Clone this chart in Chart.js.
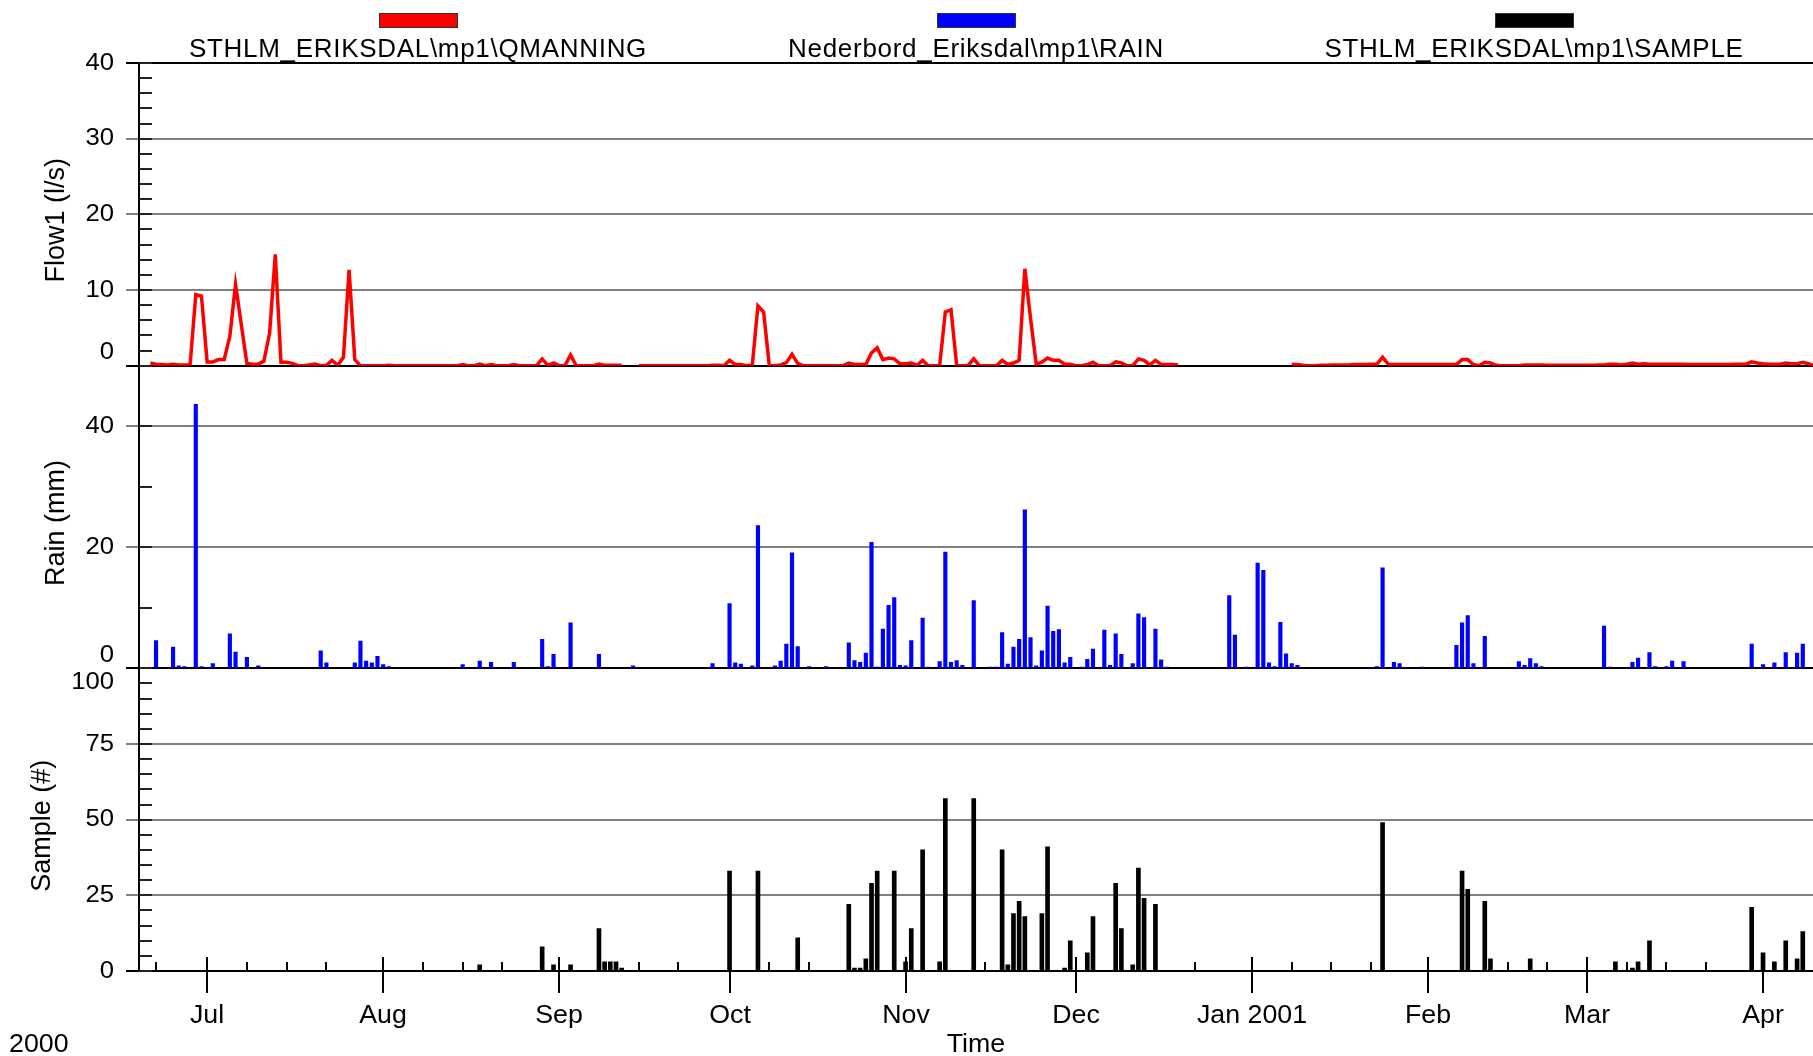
<!DOCTYPE html>
<html>
<head>
<meta charset="utf-8">
<title>Eriksdal - flow, rain and samples</title>
<script src="https://cdn.jsdelivr.net/npm/chart.js@4.4.1/dist/chart.umd.min.js"></script>
<style>
  html, body { margin: 0; padding: 0; background: #fff; }
  #wrap { position: relative; width: 1813px; height: 1056px; }
  #chart { position: absolute; left: 0; top: 0; }
  .legend-item { position: absolute; top: 0; width: 600px; text-align: center;
                 font-family: "Liberation Sans", Arial, sans-serif; font-size: 26px; color: #000; }
  .legend-item .swatch { width: 77px; height: 13px; margin: 13px auto 0; border: 1px solid #333; }
  .legend-item .name { margin-top: 5px; line-height: 30px; letter-spacing: 0.7px; }
</style>
</head>
<body>
<div id="wrap">
  <canvas id="chart" width="1813" height="1056"></canvas>
</div>
<script>
const FONT = '"Liberation Sans", Arial, sans-serif';
const TEXT_STRETCH = 1.07; // the original's lettering is a little wide

// legend
const seriesNames = ['STHLM_ERIKSDAL\\mp1\\QMANNING', 'Nederbord_Eriksdal\\mp1\\RAIN', 'STHLM_ERIKSDAL\\mp1\\SAMPLE'];
const seriesColors = ['#ff0000', '#0000ff', '#000000'];

// x axis: month ticks
const monthTicks = ['2000-07-01', '2000-08-01', '2000-09-01', '2000-10-01', '2000-11-01',
                    '2000-12-01', '2001-01-01', '2001-02-01', '2001-03-01', '2001-04-01'];
const monthLabels = ['Jul', 'Aug', 'Sep', 'Oct', 'Nov', 'Dec', 'Jan 2001', 'Feb', 'Mar', 'Apr'];

// y axis ticks per panel
const flowTicks = [0, 10, 20, 30, 40];
const rainTicks = [0, 20, 40];
const sampleTicks = [0, 25, 50, 75, 100];

// daily flow (l/s), starting 2000-06-21, null = missing
const flowStart = '2000-06-21';
const flowValues = [
  // Jun 21-30
  0.35, 0.2, 0.15, 0.1, 0.2, 0.1, 0.1, 0.1, 9.4, 9.2,
  // Jul
  0.5, 0.5, 0.8, 0.8, 3.9, 10.75, 5.5, 0.3, 0.2, 0.2,
  0.6, 4.3, 14.7, 0.45, 0.45, 0.3, 0, 0, 0.1, 0.2,
  0, 0.05, 0.7, 0.05, 1.1, 12.65, 0.8, 0, 0, 0, 0,
  // Aug
  0, 0.05, 0, 0, 0, 0, 0, 0, 0, 0,
  0, 0, 0, 0, 0.15, 0, 0, 0.2, 0, 0.15,
  0, 0, 0, 0.15, 0, 0, 0, 0, 0.9, 0.05, 0.35,
  // Sep
  0, 0, 1.4, 0, 0, 0, 0, 0.2, 0.05, 0.05,
  0.05, 0.05, null, null, 0, 0, 0, 0, 0, 0,
  0, 0, 0, 0, 0, 0, 0, 0.05, 0.05, 0,
  // Oct
  0.7, 0.15, 0.15, 0, 0.05, 7.9, 7.1, 0, 0, 0.1,
  0.4, 1.5, 0.3, 0, 0, 0, 0, 0, 0, 0,
  0, 0.35, 0.15, 0.15, 0.15, 1.7, 2.35, 0.8, 1.0, 0.9, 0.25,
  // Nov
  0.25, 0.35, 0.05, 0.7, 0, 0, 0, 7.1, 7.4, 0,
  0, 0, 0.9, 0, 0, 0, 0, 0.7, 0.15, 0.35,
  0.7, 12.8, 6.3, 0.2, 0.45, 1.0, 0.7, 0.7, 0.2, 0.2,
  // Dec
  0, 0, 0.15, 0.45, 0, 0, 0, 0.5, 0.35, 0,
  0, 0.9, 0.7, 0.1, 0.7, 0.15, 0.15, 0.15, 0.1, null,
  null, null, null, null, null, null, null, null, null, null, null,
  // Jan 2001
  null, null, null, null, null, null, null, 0.15, 0.15, 0.05,
  0, 0, 0.05, 0.05, 0.1, 0.1, 0.1, 0.1, 0.15, 0.15,
  0.15, 0.2, 0.2, 1.1, 0.2, 0.15, 0.15, 0.15, 0.15, 0.15, 0.15,
  // Feb
  0.15, 0.15, 0.15, 0.15, 0.15, 0.15, 0.8, 0.8, 0.15, 0,
  0.45, 0.35, 0.05, 0, 0, 0, 0, 0.1, 0.1, 0.1,
  0.1, 0.05, 0.05, 0.05, 0.05, 0.05, 0.05, 0.05,
  // Mar
  0.05, 0.05, 0.1, 0.1, 0.2, 0.2, 0.1, 0.2, 0.35, 0.2,
  0.25, 0.2, 0.2, 0.2, 0.2, 0.2, 0.2, 0.2, 0.15, 0.15,
  0.15, 0.15, 0.15, 0.15, 0.15, 0.15, 0.2, 0.2, 0.2, 0.5, 0.35,
  // Apr 1-10
  0.25, 0.2, 0.2, 0.2, 0.35, 0.25, 0.25, 0.45, 0.25, 0
];

// daily rain (mm)
const rainDates = [
  '2000-06-22', '2000-06-25', '2000-06-26', '2000-06-27', '2000-06-29', '2000-06-30',
  '2000-07-02', '2000-07-05', '2000-07-06', '2000-07-08', '2000-07-10', '2000-07-21', '2000-07-22',
  '2000-07-27', '2000-07-28', '2000-07-29', '2000-07-30', '2000-07-31',
  '2000-08-01', '2000-08-02', '2000-08-15', '2000-08-18', '2000-08-20', '2000-08-24',
  '2000-08-29', '2000-08-30', '2000-08-31',
  '2000-09-03', '2000-09-08', '2000-09-14', '2000-09-28',
  '2000-10-01', '2000-10-02', '2000-10-03', '2000-10-05', '2000-10-06', '2000-10-09', '2000-10-10',
  '2000-10-11', '2000-10-12', '2000-10-13', '2000-10-15', '2000-10-18', '2000-10-22', '2000-10-23',
  '2000-10-24', '2000-10-25', '2000-10-26', '2000-10-27', '2000-10-28', '2000-10-29', '2000-10-30',
  '2000-10-31',
  '2000-11-01', '2000-11-02', '2000-11-04', '2000-11-05', '2000-11-07', '2000-11-08', '2000-11-09',
  '2000-11-10', '2000-11-11', '2000-11-13', '2000-11-16', '2000-11-17', '2000-11-18', '2000-11-19',
  '2000-11-20', '2000-11-21', '2000-11-22', '2000-11-23', '2000-11-24', '2000-11-25', '2000-11-26',
  '2000-11-27', '2000-11-28', '2000-11-29', '2000-11-30',
  '2000-12-02', '2000-12-03', '2000-12-04', '2000-12-06', '2000-12-07', '2000-12-08', '2000-12-09',
  '2000-12-11', '2000-12-12', '2000-12-13', '2000-12-15', '2000-12-16', '2000-12-17', '2000-12-28',
  '2000-12-29', '2000-12-31',
  '2001-01-02', '2001-01-03', '2001-01-04', '2001-01-05', '2001-01-06', '2001-01-07', '2001-01-08',
  '2001-01-09', '2001-01-23', '2001-01-24', '2001-01-26', '2001-01-27', '2001-01-31',
  '2001-02-06', '2001-02-07', '2001-02-08', '2001-02-09', '2001-02-11', '2001-02-17', '2001-02-18',
  '2001-02-19', '2001-02-20', '2001-02-21',
  '2001-03-04', '2001-03-05', '2001-03-09', '2001-03-10', '2001-03-12', '2001-03-13', '2001-03-15',
  '2001-03-16', '2001-03-18', '2001-03-30',
  '2001-04-01', '2001-04-03', '2001-04-05', '2001-04-07', '2001-04-08'
];
const rainValues = [
  4.6, 3.5, 0.4, 0.3, 43.6, 0.3,
  0.8, 5.7, 2.7, 1.8, 0.4, 2.9, 0.9,
  0.9, 4.5, 1.2, 0.9, 2.0,
  0.6, 0.3, 0.6, 1.2, 1.0, 1.0,
  4.8, 0.3, 2.3,
  7.5, 2.3, 0.4, 0.8,
  10.7, 0.9, 0.7, 0.4, 23.6, 0.4, 1.2,
  4.0, 19.1, 3.6, 0.3, 0.3, 4.2, 1.3,
  1.0, 2.5, 20.8, 0.2, 6.5, 10.4, 11.7,
  0.5,
  0.4, 4.6, 8.3, 0.2, 1.1, 19.2, 1.0,
  1.3, 0.5, 11.2, 0.2, 0.2, 5.9, 0.7,
  3.5, 4.8, 26.2, 5.1, 0.4, 2.9, 10.3,
  6.1, 6.4, 0.9, 1.8,
  0.2, 1.5, 3.2, 6.3, 0.5, 5.7, 2.3,
  0.8, 9.0, 8.4, 6.5, 1.4, 0.2, 12.0,
  5.5, 0.2,
  17.4, 16.2, 0.9, 0.3, 7.6, 2.4, 0.8,
  0.5, 0.3, 16.6, 1.0, 0.8, 0.2,
  3.8, 7.5, 8.7, 0.8, 5.3, 1.1, 0.5,
  1.6, 0.8, 0.3,
  7.0, 0.2, 1.0, 1.7, 2.6, 0.3, 0.3,
  1.2, 1.1, 4.0,
  0.6, 0.9, 2.6, 2.5, 4.0
];

// samples taken per day (#)
const sampleDates = [
  '2000-08-18', '2000-08-29', '2000-08-31', '2000-09-03', '2000-09-08', '2000-09-09', '2000-09-10',
  '2000-09-11', '2000-09-12',
  '2000-10-01', '2000-10-06', '2000-10-13', '2000-10-22', '2000-10-23', '2000-10-24', '2000-10-25',
  '2000-10-26', '2000-10-27', '2000-10-30',
  '2000-11-01', '2000-11-02', '2000-11-04', '2000-11-07', '2000-11-08', '2000-11-13', '2000-11-18',
  '2000-11-19', '2000-11-20', '2000-11-21', '2000-11-22', '2000-11-25', '2000-11-26', '2000-11-29',
  '2000-11-30',
  '2000-12-03', '2000-12-04', '2000-12-08', '2000-12-09', '2000-12-11', '2000-12-12', '2000-12-13',
  '2000-12-15',
  '2001-01-24', '2001-02-07', '2001-02-08', '2001-02-11', '2001-02-12', '2001-02-19',
  '2001-03-06', '2001-03-09', '2001-03-10', '2001-03-12', '2001-03-30',
  '2001-04-01', '2001-04-03', '2001-04-05', '2001-04-07', '2001-04-08'
];
const sampleValues = [
  2, 8, 2, 2, 14, 3, 3,
  3, 1,
  33, 33, 11, 22, 1, 1, 4,
  29, 33, 33,
  3, 14, 40, 3, 57, 57, 40,
  2, 19, 23, 18, 19, 41, 1,
  10,
  6, 18, 29, 14, 2, 34, 24,
  22,
  49, 33, 27, 23, 4, 4,
  3, 1, 3, 10, 21,
  6, 3, 10, 4, 13
];

// dates -> day numbers (days since 2000-01-01)
const ORIGIN = Date.UTC(2000, 0, 1);
function dayNum(s) {
  const [y, m, d] = s.split('-').map(Number);
  return (Date.UTC(y, m - 1, d) - ORIGIN) / 86400000;
}

const X_MIN = dayNum('2000-06-19');
const X_MAX = dayNum('2001-04-01') + 8.8;

const flow0 = dayNum(flowStart);
const flowPoints = flowValues.map((v, i) => ({x: flow0 + i, y: v}));
const rainPoints = rainDates.map((d, i) => ({x: dayNum(d), y: rainValues[i]}));
const samplePoints = sampleDates.map((d, i) => ({x: dayNum(d), y: sampleValues[i]}));

// minor ticks on the 8th, 15th and 22nd
const minorTicks = [];
for (let m = 5; m <= 15; m++) {
  [8, 15, 22].forEach(d => {
    const v = (Date.UTC(2000, m, d) - ORIGIN) / 86400000;
    if (v > X_MIN && v < X_MAX) minorTicks.push(v);
  });
}

const panels = [
  {id: 'yFlow', title: 'Flow1 (l/s)', max: 40, ticks: flowTicks, minor: 2},
  {id: 'yRain', title: 'Rain (mm)', max: 50, ticks: rainTicks, minor: 10},
  {id: 'ySample', title: 'Sample (#)', max: 100, ticks: sampleTicks, minor: 5}
];

function panelAxis(p, weight) {
  return {
    type: 'linear',
    position: 'left',
    stack: 'panels',
    stackWeight: 1,
    weight: weight,
    min: 0,
    max: p.max,
    afterBuildTicks: s => { s.ticks = p.ticks.map(v => ({value: v})); },
    afterFit: s => { s.width = 139; },
    ticks: {display: false},
    grid: {
      color: c => (c.tick.value === 0 || c.tick.value === p.max) ? '#000' : '#808080',
      lineWidth: 2,
      tickLength: 13
    },
    border: {display: true, color: '#000', width: 2}
  };
}

// text drawn slightly wider than the font, anchored like fillText
function wideText(ctx, text, x, y, align) {
  const w = ctx.measureText(text).width * TEXT_STRETCH;
  let left = x;
  if (align === 'center') left = x - w / 2;
  if (align === 'right') left = x - w;
  ctx.save();
  ctx.translate(left, y);
  ctx.scale(TEXT_STRETCH, 1);
  ctx.textAlign = 'left';
  ctx.fillText(text, 0, 0);
  ctx.restore();
  return w;
}

// tick labels, inside ticks, titles and the time axis
const axisDecor = {
  id: 'axisDecor',
  afterDraw(chart) {
    const ctx = chart.ctx;
    const area = chart.chartArea;
    ctx.save();
    ctx.lineWidth = 2;
    ctx.fillStyle = '#000';
    ctx.textBaseline = 'middle';

    panels.forEach((p, i) => {
      const s = chart.scales[p.id];
      ctx.strokeStyle = '#222';
      for (let v = 0; v <= p.max; v += p.minor) {
        const y = Math.round(s.getPixelForValue(v));
        ctx.beginPath();
        ctx.moveTo(area.left, y);
        ctx.lineTo(area.left + 13, y);
        ctx.stroke();
      }
      ctx.font = '24px ' + FONT;
      let widest = 0;
      p.ticks.forEach(v => {
        let y = s.getPixelForValue(v);
        if (v === 0 && i < panels.length - 1) y -= 13;
        if (v === p.max && i > 0) y += 14;
        widest = Math.max(widest, wideText(ctx, String(v), area.left - 25, y, 'right'));
      });
      ctx.save();
      ctx.translate(area.left - 25 - widest - 29, (s.top + s.bottom) / 2 + 6);
      ctx.rotate(-Math.PI / 2);
      ctx.textAlign = 'center';
      ctx.font = '27px ' + FONT;
      ctx.fillText(p.title, 0, 0);
      ctx.restore();
    });

    const xs = chart.scales.x;
    const base = area.bottom;
    ctx.strokeStyle = '#000';
    minorTicks.forEach(v => {
      const x = Math.round(xs.getPixelForValue(v));
      ctx.beginPath();
      ctx.moveTo(x, base - 9);
      ctx.lineTo(x, base);
      ctx.stroke();
    });
    ctx.font = '25px ' + FONT;
    monthTicks.forEach((d, k) => {
      const x = Math.round(xs.getPixelForValue(dayNum(d)));
      ctx.beginPath();
      ctx.moveTo(x, base - 14);
      ctx.lineTo(x, base + 22);
      ctx.stroke();
      wideText(ctx, monthLabels[k], x, base + 45, 'center');
    });
    wideText(ctx, 'Time', (area.left + area.right) / 2, base + 74, 'center');
    wideText(ctx, '2000', 9, base + 74, 'left');
    ctx.restore();
  }
};

const chart = new Chart(document.getElementById('chart'), {
  data: {
    datasets: [
      {
        type: 'line',
        label: seriesNames[0],
        data: flowPoints,
        yAxisID: 'yFlow',
        borderColor: seriesColors[0],
        borderWidth: 3.5,
        pointRadius: 0,
        tension: 0,
        spanGaps: false
      },
      {
        type: 'bar',
        label: seriesNames[1],
        data: rainPoints,
        yAxisID: 'yRain',
        backgroundColor: seriesColors[1],
        barThickness: 3.5,
        grouped: false
      },
      {
        type: 'bar',
        label: seriesNames[2],
        data: samplePoints,
        yAxisID: 'ySample',
        backgroundColor: seriesColors[2],
        barThickness: 4,
        grouped: false
      }
    ]
  },
  options: {
    responsive: false,
    animation: false,
    layout: {padding: {top: 63, bottom: 85, left: 0, right: 0}},
    plugins: {legend: {display: false}, tooltip: {enabled: false}},
    scales: {
      x: {type: 'linear', min: X_MIN, max: X_MAX, offset: false, display: false},
      yFlow: panelAxis(panels[0], 3),
      yRain: panelAxis(panels[1], 2),
      ySample: panelAxis(panels[2], 1)
    }
  },
  plugins: [axisDecor]
});

// legend: one item centred in each third of the plot width
const wrap = document.getElementById('wrap');
const area = chart.chartArea;
const third = (area.right - area.left) / 3;
seriesNames.forEach((name, i) => {
  const item = document.createElement('div');
  item.className = 'legend-item';
  item.style.left = (area.left + third * (i + 0.5) - 300) + 'px';
  const sw = document.createElement('div');
  sw.className = 'swatch';
  sw.style.background = seriesColors[i];
  const label = document.createElement('div');
  label.className = 'name';
  label.textContent = name;
  item.appendChild(sw);
  item.appendChild(label);
  wrap.appendChild(item);
});
</script>
</body>
</html>
